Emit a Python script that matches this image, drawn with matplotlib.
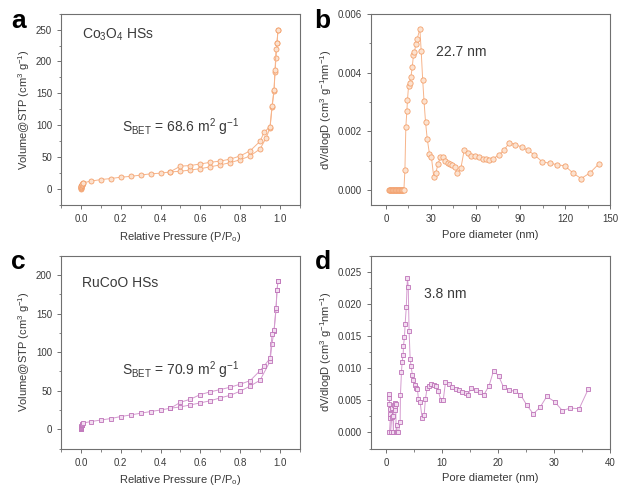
import matplotlib
matplotlib.use("Agg")
import matplotlib.pyplot as plt
from matplotlib.ticker import MultipleLocator, FormatStrFormatter

plt.rcParams["font.family"] = ["Liberation Sans", "DejaVu Sans"]
plt.rcParams["mathtext.default"] = "regular"

# ── panel a: Co3O4 isotherm ──
a_ads_p = [0.001, 0.001, 0.001, 0.002, 0.002, 0.002, 0.003, 0.004, 0.005, 0.006,
           0.007, 0.009, 0.012,
           0.05, 0.10, 0.15, 0.20, 0.25, 0.30, 0.35, 0.40, 0.45, 0.50, 0.55, 0.60,
           0.65, 0.70, 0.75, 0.80, 0.85, 0.90, 0.93, 0.95, 0.96, 0.97, 0.975, 0.98,
           0.985, 0.99]
a_ads_v = [0.5, 1.5, 2.5, 3, 4, 4.5, 5, 6, 6.5, 7, 8, 9, 10,
           12.5, 15, 16.6, 18.7, 20, 22, 24, 25, 27, 28, 30, 32,
           35, 38, 41.6, 46, 52, 63, 80, 96, 128, 153, 184, 206,
           229, 250]
a_des_p = [0.99, 0.985, 0.98, 0.975, 0.97, 0.96, 0.95, 0.92, 0.90, 0.85, 0.80,
           0.75, 0.70, 0.65, 0.60, 0.55, 0.50, 0.45]
a_des_v = [250, 229, 219, 186, 156, 130, 98, 89, 75, 60, 52,
           47, 44, 42, 39.5, 37, 36, 27.5]

# ── panel b: Co3O4 pore size distribution ──
b_d = [2.0, 2.5, 3.0, 3.5, 4.0, 4.5, 5.0, 5.5, 6.0, 6.5, 7.0, 7.5, 8.0, 8.5, 9.0,
       9.5, 10.0, 10.5, 11.0, 11.5, 12.0, 12.7, 13.3, 14.0, 14.4, 15.1, 15.8,
       16.7, 17.6, 18.4, 19.1, 20.0, 20.9, 22.7, 23.6, 24.6, 25.5, 26.5, 27.6,
       29.1, 30.4, 32.0, 33.3, 34.9, 36.4, 38.2, 39.8, 41.3, 42.9, 44.2, 46.0,
       47.8, 50.2, 52.4, 54.7, 57.1, 59.6, 62.2, 64.7, 66.8, 68.9, 71.8, 75.6,
       79.1, 82.7, 86.7, 90.9, 94.9, 99.3, 104.6, 109.7, 114.8, 119.9, 125.2,
       130.7, 136.5, 142.4]
b_v = [0, 0, 0, 0, 0, 0, 0, 0, 0, 0, 0, 0, 0, 0, 0,
       0, 0, 0, 0, 0, 0, 0.0007, 0.00214, 0.00269, 0.00306, 0.00353, 0.00365,
       0.00385, 0.00418, 0.00459, 0.00469, 0.00497, 0.00514, 0.00548, 0.00472,
       0.00374, 0.00302, 0.00232, 0.00176, 0.00125, 0.00114, 0.00046, 0.00058,
       0.0009, 0.00112, 0.00114, 0.00098, 0.00094, 0.00089, 0.00085, 0.00078,
       0.0006, 0.00076, 0.00137, 0.00128, 0.00116, 0.00116, 0.00112, 0.00108,
       0.00106, 0.00103, 0.00107, 0.00121, 0.00137, 0.00162, 0.00155, 0.00147,
       0.00136, 0.00121, 0.00097, 0.00092, 0.00087, 0.00083, 0.00059, 0.0004,
       0.00059, 0.00089]

# ── panel c: RuCoO isotherm ──
c_ads_p = [0.001, 0.001, 0.001, 0.002, 0.002, 0.003, 0.004, 0.005, 0.006, 0.008, 0.01,
           0.05, 0.10, 0.15, 0.20, 0.25, 0.30, 0.35, 0.40, 0.45, 0.50, 0.55,
           0.60, 0.65, 0.70, 0.75, 0.80, 0.85, 0.90, 0.95, 0.96, 0.97, 0.98,
           0.985, 0.99]
c_ads_v = [0, 1, 1.5, 2, 3, 4, 5, 5.5, 6, 7, 8,
           10, 12, 13.9, 16.5, 18.6, 20.8, 23, 25, 27.3, 29, 31.6,
           34.2, 37, 40.7, 44, 49.4, 56, 63.6, 88, 111, 127, 155,
           180, 192]
c_des_p = [0.99, 0.985, 0.98, 0.97, 0.96, 0.95, 0.92, 0.90, 0.85, 0.80, 0.75,
           0.70, 0.65, 0.60, 0.55, 0.50, 0.45]
c_des_v = [192, 180, 157, 128, 123, 92, 82, 76, 63, 58.4, 54.5,
           51.5, 48.5, 45, 39, 35, 27.3]

# ── panel d: RuCoO pore size distribution ──
d_d = [0.5, 0.55, 0.6, 0.65, 0.7, 0.75, 0.6, 0.8, 1.0, 1.1, 1.2, 1.3, 1.4, 1.5,
       1.55, 1.6, 1.7, 1.8, 1.9, 2.0, 2.2, 2.5, 2.56, 2.74, 2.86, 3.04, 3.1,
       3.27, 3.4, 3.6, 3.8, 3.95, 4.1, 4.29, 4.46, 4.7, 4.88, 5.12, 5.36, 5.6,
       5.77, 6.07, 6.43, 6.79, 7.02, 7.32, 7.68, 8.04, 8.5, 8.87, 9.29, 9.8,
       10.2, 10.6, 11.2, 11.8, 12.4, 13.0, 13.6, 14.2, 14.6, 15.2, 16.0, 16.7,
       17.5, 18.4, 19.2, 20.1, 21.0, 22.0, 23.0, 24.0, 25.1, 26.3, 27.5, 28.7,
       30.1, 31.5, 32.9, 34.5, 36.1]
d_v = [0.0060, 0.0054, 0.0044, 0.0037, 0.0028, 0.0022, 0.0, 0.0, 0.0024,
       0.0038, 0.0026, 0.0, 0.0043, 0.0038, 0.0035, 0.0046, 0.0045, 0.0,
       0.0012, 0.0, 0.0, 0.0016, 0.0059, 0.0094, 0.0110, 0.0121, 0.0135,
       0.0148, 0.0169, 0.0195, 0.0241, 0.0227, 0.0158, 0.0115, 0.0103, 0.0089,
       0.0081, 0.0074, 0.0069, 0.0067, 0.0052, 0.0048, 0.0022, 0.0027, 0.0052,
       0.0069, 0.0073, 0.0075, 0.0074, 0.0072, 0.0065, 0.0050, 0.0050, 0.0078,
       0.0076, 0.0071, 0.0068, 0.0066, 0.0063, 0.0061, 0.0058, 0.0069, 0.0066,
       0.0063, 0.0059, 0.0073, 0.0096, 0.0088, 0.0070, 0.0066, 0.0064, 0.0059,
       0.0043, 0.0029, 0.0039, 0.0056, 0.0048, 0.0034, 0.0038, 0.0037, 0.0067]

OR_LINE, OR_EDGE, OR_FILL = "#F7B48A", "#F3A06C", "#FCE2CF"
PU_LINE, PU_EDGE, PU_FILL = "#D49BCF", "#BE72B8", "#F2DCF0"
TXT = "#3a3a3a"
SPINE = "#707070"

fig = plt.figure(figsize=(6.19, 4.86), dpi=100)
W, H = 0.386, 0.394
ax_a = fig.add_axes([0.0985, 0.578, W, H])
ax_b = fig.add_axes([0.5994, 0.578, W, H])
ax_c = fig.add_axes([0.0985, 0.077, W, 0.397])
ax_d = fig.add_axes([0.5994, 0.077, W, 0.397])


def style(ax):
    for s in ax.spines.values():
        s.set_color(SPINE)
        s.set_linewidth(0.8)
    ax.tick_params(which="both", direction="out", colors=SPINE, labelcolor=TXT,
                   labelsize=7, top=False, right=False)
    ax.tick_params(which="major", length=3, width=0.7)
    ax.tick_params(which="minor", length=1.8, width=0.6)


def draw(ax, x, y, lc, ec, fc, mk, ms):
    ax.plot(x, y, color=lc, lw=0.7, marker=mk, ms=ms, mec=ec, mfc=fc, mew=0.6)


# a
draw(ax_a, a_ads_p, a_ads_v, OR_LINE, OR_EDGE, OR_FILL, "o", 3.6)
draw(ax_a, a_des_p, a_des_v, OR_LINE, OR_EDGE, OR_FILL, "o", 3.6)
ax_a.set_xlim(-0.1, 1.1)
ax_a.set_ylim(-25, 275)
ax_a.xaxis.set_major_locator(MultipleLocator(0.2))
ax_a.xaxis.set_minor_locator(MultipleLocator(0.1))
ax_a.yaxis.set_major_locator(MultipleLocator(50))
ax_a.yaxis.set_minor_locator(MultipleLocator(25))
ax_a.xaxis.set_major_formatter(FormatStrFormatter("%.1f"))
ax_a.set_xlabel("Relative Pressure (P/P$_o$)", fontsize=8, color=TXT, labelpad=4)
ax_a.set_ylabel("Volume@STP (cm$^3$ g$^{-1}$)", fontsize=8, color=TXT, labelpad=3)
ax_a.text(0.09, 0.87, "Co$_3$O$_4$ HSs", transform=ax_a.transAxes, fontsize=10, color=TXT)
ax_a.text(0.5, 0.38, "S$_{BET}$ = 68.6 m$^2$ g$^{-1}$", transform=ax_a.transAxes,
          fontsize=10, color=TXT, ha="center")
style(ax_a)

# b
draw(ax_b, b_d, b_v, OR_LINE, OR_EDGE, OR_FILL, "o", 3.8)
ax_b.set_xlim(-10, 150)
ax_b.set_ylim(-0.0005, 0.006)
ax_b.xaxis.set_major_locator(MultipleLocator(30))
ax_b.xaxis.set_minor_locator(MultipleLocator(15))
ax_b.yaxis.set_major_locator(MultipleLocator(0.002))
ax_b.yaxis.set_minor_locator(MultipleLocator(0.001))
ax_b.yaxis.set_major_formatter(FormatStrFormatter("%.3f"))
ax_b.set_xlabel("Pore diameter (nm)", fontsize=8, color=TXT, labelpad=4)
ax_b.set_ylabel("dV/dlogD (cm$^3$ g$^{-1}$nm$^{-1}$)", fontsize=8, color=TXT, labelpad=3)
ax_b.text(0.27, 0.78, "22.7 nm", transform=ax_b.transAxes, fontsize=10, color=TXT)
style(ax_b)

# c
draw(ax_c, c_ads_p, c_ads_v, PU_LINE, PU_EDGE, PU_FILL, "s", 2.9)
draw(ax_c, c_des_p, c_des_v, PU_LINE, PU_EDGE, PU_FILL, "s", 2.9)
ax_c.set_xlim(-0.1, 1.1)
ax_c.set_ylim(-25, 225)
ax_c.xaxis.set_major_locator(MultipleLocator(0.2))
ax_c.xaxis.set_minor_locator(MultipleLocator(0.1))
ax_c.yaxis.set_major_locator(MultipleLocator(50))
ax_c.yaxis.set_minor_locator(MultipleLocator(25))
ax_c.xaxis.set_major_formatter(FormatStrFormatter("%.1f"))
ax_c.set_xlabel("Relative Pressure (P/P$_o$)", fontsize=8, color=TXT, labelpad=4)
ax_c.set_ylabel("Volume@STP (cm$^3$ g$^{-1}$)", fontsize=8, color=TXT, labelpad=3)
ax_c.text(0.09, 0.84, "RuCoO HSs", transform=ax_c.transAxes, fontsize=10, color=TXT)
ax_c.text(0.5, 0.38, "S$_{BET}$ = 70.9 m$^2$ g$^{-1}$", transform=ax_c.transAxes,
          fontsize=10, color=TXT, ha="center")
style(ax_c)

# d
draw(ax_d, d_d, d_v, PU_LINE, PU_EDGE, PU_FILL, "s", 3.0)
ax_d.set_xlim(-2.7, 40)
ax_d.set_ylim(-0.0025, 0.0275)
ax_d.xaxis.set_major_locator(MultipleLocator(10))
ax_d.xaxis.set_minor_locator(MultipleLocator(5))
ax_d.yaxis.set_major_locator(MultipleLocator(0.005))
ax_d.yaxis.set_minor_locator(MultipleLocator(0.0025))
ax_d.yaxis.set_major_formatter(FormatStrFormatter("%.3f"))
ax_d.set_xlabel("Pore diameter (nm)", fontsize=8, color=TXT, labelpad=4)
ax_d.set_ylabel("dV/dlogD (cm$^3$ g$^{-1}$nm$^{-1}$)", fontsize=8, color=TXT, labelpad=3)
ax_d.text(0.22, 0.78, "3.8 nm", transform=ax_d.transAxes, fontsize=10, color=TXT)
style(ax_d)

# panel letters
for lab, x, y in [("a", 0.018, 0.943), ("b", 0.508, 0.943), ("c", 0.018, 0.447), ("d", 0.508, 0.447)]:
    fig.text(x, y, lab, fontsize=19, fontweight="bold", color="black")

fig.savefig("out.png", dpi=100)
